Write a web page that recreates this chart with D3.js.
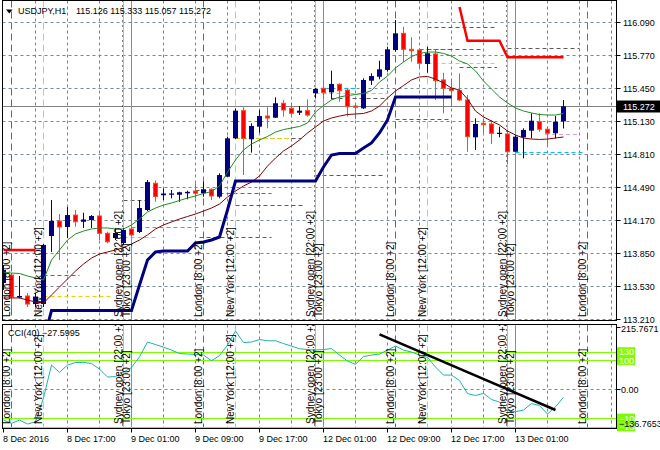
<!DOCTYPE html>
<html><head><meta charset="utf-8">
<script src="https://cdn.jsdelivr.net/npm/d3@7"></script>
<style>
body{margin:0;background:#fff}
svg{display:block}
text{font-family:"Liberation Sans",Arial,sans-serif;font-size:9px;fill:#000}
</style>
</head><body>
<svg id="c" width="660" height="450"></svg>
<script>
// ---------- DATA ----------
const symbol = "USDJPY,H1";
const opens = [113.559,113.636,113.418,113.433,113.355,113.355,114.015,114.160,114.102,114.218,114.153,114.170,114.209,114.041,113.995,113.947,114.083,114.054,114.267,114.526,114.410,114.415,114.415,114.429,114.451,114.429,114.468,114.396,114.590,114.962,115.230,114.953,115.075,115.178,115.162,115.302,115.253,115.210,115.230,115.399,115.447,115.408,115.486,115.430,115.275,115.253,115.521,115.559,115.625,115.818,115.980,115.825,115.818,115.683,115.780,115.528,115.447,115.424,115.334,114.972,115.108,115.101,115.004,115.004,114.832,114.972,115.036,115.123,115.050,115.011,115.126];
const highs = [113.734,113.656,113.627,113.462,113.462,113.937,114.364,114.228,114.296,114.267,114.241,114.218,114.235,114.057,114.093,114.093,114.112,114.364,114.558,114.553,114.475,114.461,114.444,114.454,114.526,114.541,114.477,114.623,114.978,115.253,115.263,115.108,115.237,115.263,115.360,115.334,115.302,115.275,115.340,115.450,115.534,115.618,115.496,115.447,115.295,115.544,115.592,115.715,115.850,116.109,116.044,115.942,115.835,115.850,115.825,115.598,115.534,115.592,115.382,115.156,115.156,115.140,115.075,115.043,114.994,115.059,115.205,115.205,115.075,115.178,115.333];
const lows = [113.491,113.307,113.409,113.326,113.326,113.326,113.860,113.782,113.995,114.105,114.093,114.093,113.976,113.944,113.976,113.928,114.015,114.044,114.257,114.347,114.364,114.380,114.347,114.371,114.380,114.396,114.364,114.380,114.587,114.955,114.606,114.823,115.016,115.059,115.159,115.172,115.172,115.188,115.172,115.350,115.350,115.340,115.317,115.172,115.147,115.246,115.479,115.534,115.608,115.802,115.702,115.705,115.641,115.598,115.334,115.205,115.269,115.324,114.832,114.849,115.016,114.907,114.972,114.713,114.829,114.768,114.962,115.026,114.896,114.962,115.057];
const closes = [113.685,113.423,113.433,113.355,113.428,113.928,114.160,114.102,114.218,114.153,114.175,114.209,114.041,113.959,114.044,114.073,114.025,114.286,114.538,114.398,114.427,114.427,114.439,114.443,114.429,114.468,114.403,114.606,114.962,115.230,114.962,115.082,115.178,115.159,115.302,115.237,115.205,115.230,115.188,115.440,115.405,115.489,115.424,115.269,115.263,115.528,115.566,115.631,115.825,115.980,115.825,115.812,115.690,115.787,115.521,115.447,115.424,115.334,114.978,115.101,115.094,115.011,115.016,114.832,114.978,115.043,115.133,115.050,115.011,115.123,115.272];
const maFast = [113.666,113.656,113.651,113.627,113.608,113.588,113.782,113.879,113.976,114.034,114.063,114.083,114.093,114.093,114.083,114.083,114.122,114.180,114.248,114.286,114.315,114.335,114.359,114.383,114.403,114.427,114.446,114.500,114.635,114.752,114.849,114.907,114.946,114.980,115.023,115.047,115.062,115.077,115.111,115.217,115.280,115.334,115.363,115.377,115.387,115.397,115.426,115.508,115.566,115.644,115.702,115.755,115.785,115.799,115.799,115.785,115.760,115.712,115.683,115.615,115.518,115.440,115.363,115.305,115.256,115.227,115.208,115.193,115.188,115.188,115.203];
const maSlow = [113.414,113.414,113.414,113.394,113.375,113.365,113.443,113.520,113.598,113.675,113.743,113.801,113.840,113.860,113.879,113.903,113.937,113.976,114.025,114.083,114.122,114.151,114.180,114.204,114.228,114.257,114.286,114.325,114.393,114.451,114.500,114.538,114.597,114.693,114.771,114.839,114.888,114.946,115.014,115.072,115.130,115.159,115.178,115.193,115.198,115.203,115.227,115.275,115.353,115.421,115.474,115.528,115.557,115.562,115.537,115.498,115.450,115.430,115.343,115.227,115.169,115.130,115.091,115.033,114.994,114.965,114.955,114.951,114.955,114.965,114.975];
const stopUp = [null,null,null,null,null,112.997,113.292,113.292,113.292,113.292,113.292,113.292,113.292,113.292,113.292,113.292,113.292,113.540,113.782,113.860,113.869,113.869,113.869,113.869,113.947,113.957,113.976,114.005,114.267,114.548,114.548,114.548,114.548,114.548,114.548,114.548,114.548,114.548,114.548,114.548,114.684,114.800,114.815,114.815,114.815,114.868,114.917,115.014,115.140,115.363,115.363,115.363,115.363,115.363,115.363,115.363,115.363,null,null,null,null,null,null,null,null,null,null,null,null,null,null];
const stopDown = [113.879,113.879,113.879,113.879,113.879,null,null,null,null,null,null,null,null,null,null,null,null,null,null,null,null,null,null,null,null,null,null,null,null,null,null,null,null,null,null,null,null,null,null,null,null,null,null,null,null,null,null,null,null,null,null,null,null,null,null,null,null,116.235,115.909,115.909,115.909,115.909,115.909,115.748,115.748,115.748,115.748,115.748,115.748,115.748,115.748];
const cci = [-106.8,-118.0,-107.0,-120.6,-112.6,-30.0,83.9,58.6,83.9,92.5,93.2,89.0,70.0,42.3,44.0,59.6,75.2,112.6,163.6,155.0,146.0,135.9,123.7,122.0,121.0,118.5,98.8,116.8,153.0,201.7,161.9,163.6,172.3,168.0,168.0,158.4,149.7,140.4,137.6,135.9,137.6,141.0,118.5,97.7,86.3,113.3,118.5,122.0,135.9,149.7,135.9,128.9,118.5,110.6,77.0,49.2,49.2,30.2,-14.9,-21.8,-14.2,-35.7,-44.4,-73.8,-78.0,-72.0,-49.6,-56.5,-86.0,-60.7,-27.5995];
const cciPeriod = 40;
const cciLevels = [130, 100, -100, -130];
const cciTrend = [[47, 190.5], [69, -72.0]];           // [bar, CCI value]
const priceTicks = [116.09,115.77,115.45,115.13,114.81,114.49,114.17,113.85,113.53,113.21];
const cciAxisMax = 215.7671, cciAxisMin = -136.7653;
const timeTickBars = [0,8,16,24,32,40,48,56,64];
const timeTickLabels = ["8 Dec 2016","8 Dec 17:00","9 Dec 01:00","9 Dec 09:00","9 Dec 17:00","12 Dec 01:00","12 Dec 09:00","12 Dec 17:00","13 Dec 01:00"];
const lastBar = 76; // right edge of chart in bars (chart shift)
// sessions: [label, kind, bars]
const sessions = [
  ["London [8:00 +2]", "london", [1,25,49]],
  ["London [8:00 +2]", "future", [73]],
  ["New York [12:00 +2]", "newyork", [5,29,53]],
  ["Sydney open [22:00 +2]", "sydney", [15,39,63]],
  ["Tokyo [23:00 +2]", "tokyo", [16,40,64]]
];
const separatorBars = [15,39,63];
// session high/low segments: [price, fromBar, toBar, kind]
const hSegs = [
  [113.632,5,9.5,"london"],[113.433,5,13.5,"newyork"],[114.099,16,24.5,"tokyo"],[114.002,15,19,"sydney"],
  [114.364,15,18,"gray"],[114.461,24,26.5,"gray"],[114.962,29,37.2,"gray"],[114.962,29,36,"newyork"],
  [114.429,27,33.5,"london"],[114.316,29,37.7,"gray"],[114.008,24.5,33.5,"gray"],[114.611,39,47.7,"gray"],
  [115.147,49,56,"gray"],[115.402,39,48,"sydney"],[115.447,40,44,"tokyo"],[115.355,41,47.7,"gray"],
  [115.825,52,56,"london"],[115.830,53,60,"gray"],[115.693,53,61.7,"newyork"],[115.654,57,61.7,"gray"],
  [116.037,53,61.7,"gray"],[115.835,63,72,"gray"],[115.001,67.7,72,"sydney"],[114.832,64,72.5,"tokyo"]
];

// ---------- STYLES ----------
const colors = {london:"#ff00ff", future:"#707070", newyork:"#ffc800", sydney:"#dda0dd", tokyo:"#00bfff", gray:"#5c5c5c"};
const dashes = {london:"7,4", future:"7,4", newyork:"7,4", sydney:null, tokyo:null};
const bull = "#000080", bear = "#ff0000", bearEdge = "#ff4a14";

// ---------- LAYOUT ----------
const svg = d3.select("#c");
const P = {l:2.5, r:616.5, t:0.5, b:320.5};
const S = {l:2.5, r:616.5, t:324.5, b:428.5};
const x = d3.scaleLinear().domain([0,70]).range([3.5,563.5]);
const y = d3.scaleLinear().domain([113.21,116.09]).range([319,22]);
const yc = d3.scaleLinear().domain([cciAxisMin,cciAxisMax]).range([428.7,327]);
const px = v => Math.floor(v)+0.5;

const defs = svg.append("defs");
defs.append("clipPath").attr("id","cm").append("rect").attr("x",P.l).attr("y",P.t).attr("width",P.r-P.l).attr("height",P.b-P.t);
defs.append("clipPath").attr("id","cs").append("rect").attr("x",S.l).attr("y",S.t).attr("width",S.r-S.l).attr("height",S.b-S.t);

const gm = svg.append("g").attr("clip-path","url(#cm)");
const gs = svg.append("g").attr("clip-path","url(#cs)");

// grid
const gridBars = d3.range(4, lastBar+1, 4);
[ [gm,P],[gs,S] ].forEach(([g,R])=>{
  g.selectAll(null).data(gridBars).join("line")
    .attr("x1",d=>px(x(d))).attr("x2",d=>px(x(d))).attr("y1",R.t).attr("y2",R.b)
    .attr("stroke","#778899").attr("stroke-dasharray","3,3");
});
gm.selectAll(null).data(priceTicks).join("line")
  .attr("x1",P.l).attr("x2",P.r).attr("y1",d=>Math.round(y(d))+0.5).attr("y2",d=>Math.round(y(d))+0.5)
  .attr("stroke","#778899").attr("stroke-dasharray","3,3");
gs.append("line").attr("x1",S.l).attr("x2",S.r).attr("y1",Math.round(yc(0))+0.5).attr("y2",Math.round(yc(0))+0.5)
  .attr("stroke","#778899").attr("stroke-dasharray","3,3");

// session segments
gm.selectAll(null).data(hSegs).join("line")
  .attr("x1",d=>x(d[1])).attr("x2",d=>x(d[2]))
  .attr("y1",d=>Math.round(y(d[0]))+0.5).attr("y2",d=>Math.round(y(d[0]))+0.5)
  .attr("stroke",d=>colors[d[3]]).attr("stroke-dasharray","4,3");

// bid line
const last = closes[closes.length-1];
gm.append("line").attr("x1",P.l).attr("x2",P.r).attr("y1",Math.round(y(last))+0.5).attr("y2",Math.round(y(last))+0.5).attr("stroke","#808080");

// session vertical lines
const sessLines = [];
sessions.forEach(s=>s[2].forEach(b=>sessLines.push({name:s[0],kind:s[1],bar:b})));
[[gm,P],[gs,S]].forEach(([g,R])=>{
  g.selectAll(null).data(sessLines).join("line")
    .attr("x1",d=>px(x(d.bar))).attr("x2",d=>px(x(d.bar))).attr("y1",R.t).attr("y2",R.b)
    .attr("stroke",d=>colors[d.kind]).attr("stroke-dasharray",d=>dashes[d.kind]);
  g.selectAll(null).data(separatorBars).join("line")
    .attr("x1",d=>px(x(d))-1).attr("x2",d=>px(x(d))-1).attr("y1",R.t).attr("y2",R.b)
    .attr("stroke","#000").attr("stroke-dasharray","1,4");
});

// candles
const idx = d3.range(closes.length);
gm.selectAll(null).data(idx).join("line")
  .attr("x1",i=>x(i)).attr("x2",i=>x(i)).attr("y1",i=>y(highs[i])).attr("y2",i=>y(lows[i]))
  .attr("stroke",i=>closes[i]>=opens[i]?bull:bearEdge);
gm.selectAll(null).data(idx).join("rect")
  .attr("x",i=>closes[i]>=opens[i]?x(i)-2.5:x(i)-2)
  .attr("width",i=>closes[i]>=opens[i]?5:4)
  .attr("y",i=>Math.min(y(opens[i]),y(closes[i])))
  .attr("height",i=>Math.max(1,Math.abs(y(opens[i])-y(closes[i]))))
  .attr("fill",i=>closes[i]>=opens[i]?bull:bear)
  .attr("stroke",i=>closes[i]>=opens[i]?"none":bearEdge).attr("stroke-width",1);

// moving averages
const ln = arr => d3.line().defined(i=>arr[i]!=null).x(i=>x(i)).y(i=>y(arr[i]))(idx);
gm.append("path").attr("d",ln(maSlow)).attr("fill","none").attr("stroke","#800000").attr("stroke-width",1);
gm.append("path").attr("d",ln(maFast)).attr("fill","none").attr("stroke","#228b22").attr("stroke-width",1);
gm.append("path").attr("d",ln(stopUp)).attr("fill","none").attr("stroke","#000080").attr("stroke-width",3);
gm.append("path").attr("d",ln(stopDown)).attr("fill","none").attr("stroke","#ff0000").attr("stroke-width",2.5);

// CCI
cciLevels.forEach(v=>{
  gs.append("line").attr("x1",S.l).attr("x2",S.r).attr("y1",Math.round(yc(v))+0.5).attr("y2",Math.round(yc(v))+0.5)
    .attr("stroke","#7cfc00").attr("stroke-width",1.2);
});
gs.append("path").attr("d",d3.line().x(i=>x(i)).y(i=>yc(cci[i]))(idx)).attr("fill","none").attr("stroke","#20b2aa").attr("stroke-width",1);
gs.append("line").attr("x1",x(cciTrend[0][0])).attr("y1",yc(cciTrend[0][1])).attr("x2",x(cciTrend[1][0])).attr("y2",yc(cciTrend[1][1]))
  .attr("stroke","#000").attr("stroke-width",2.5);

// session labels (rotated)
[[gm,317],[gs,424]].forEach(([g,yb])=>{
  g.selectAll(null).data(sessLines).join("text")
    .attr("transform",d=>`translate(${px(x(d.bar))-2},${yb}) rotate(-90)`)
    .style("font-size","10px").text(d=>d.name);
});

// frames
svg.append("rect").attr("x",P.l).attr("y",P.t).attr("width",P.r-P.l).attr("height",P.b-P.t).attr("fill","none").attr("stroke","#000");
svg.append("rect").attr("x",S.l).attr("y",S.t).attr("width",S.r-S.l).attr("height",S.b-S.t).attr("fill","none").attr("stroke","#000");

// header
svg.append("path").attr("d","M6,9.5L12.5,9.5L9.25,13.5Z").attr("fill","#000");
svg.append("text").attr("x",18).attr("y",14).text(symbol);
svg.append("text").attr("x",76).attr("y",14).text([opens[70],highs[70],lows[70],closes[70]].map(d3.format(".3f")).join(" "));
svg.append("text").attr("x",8).attr("y",336).text(`CCI(${cciPeriod}) ${d3.format(".4f")(cci[cci.length-1])}`);

// price axis
priceTicks.forEach(t=>{
  const yy = Math.round(y(t))+0.5;
  svg.append("line").attr("x1",P.r).attr("x2",P.r+4).attr("y1",yy).attr("y2",yy).attr("stroke","#000");
  svg.append("text").attr("x",623).attr("y",yy+3).text(d3.format(".3f")(t));
});
const ly = Math.round(y(last));
svg.append("rect").attr("x",617).attr("y",ly-5.5).attr("width",43).attr("height",12).attr("fill","#000");
svg.append("text").attr("x",623).attr("y",ly+3.5).style("fill","#fff").text(d3.format(".3f")(last));

// CCI axis
[[cciAxisMax,d3.format(".4f")(cciAxisMax),4.5],[0,"0.00",3]].forEach(([v,t,o])=>{
  const yy=Math.round(yc(v))+0.5;
  svg.append("line").attr("x1",S.r).attr("x2",S.r+4).attr("y1",yy).attr("y2",yy).attr("stroke","#000");
  svg.append("text").attr("x",621).attr("y",yy+o).text(t);
});
cciLevels.forEach(v=>{
  const yy=yc(v);
  svg.append("rect").attr("x",617).attr("y",yy-4.5).attr("width",18).attr("height",9).attr("fill","#7cfc00");
  svg.append("text").attr("x",619).attr("y",yy+3.5).style("fill","#fff").text(d3.format("d")(v));
});
svg.append("text").attr("x",619).attr("y",427).text(d3.format(".4f")(cciAxisMin));

// time axis
svg.selectAll(null).data(timeTickBars).join("line")
  .attr("x1",d=>px(x(d))).attr("x2",d=>px(x(d))).attr("y1",S.b).attr("y2",S.b+4).attr("stroke","#000");
svg.selectAll(null).data(timeTickBars).join("text")
  .attr("x",d=>x(d)-0.5).attr("y",442).text((d,i)=>timeTickLabels[i]);
</script>
</body></html>
